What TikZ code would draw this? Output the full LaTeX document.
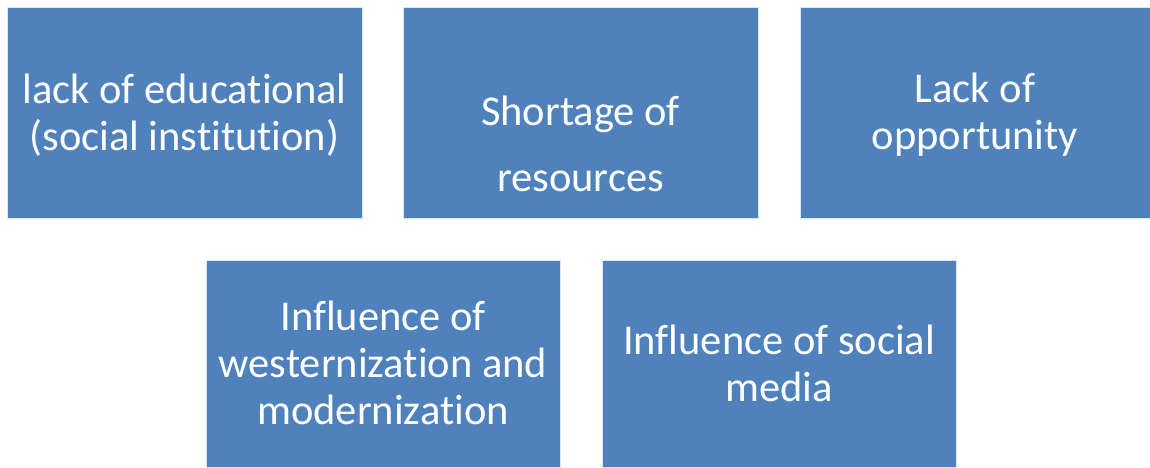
\documentclass[tikz,border=0pt]{standalone}
\usepackage{fontspec}
\setmainfont[RawFeature={-liga;-clig;-dlig;-calt}]{Carlito}
\definecolor{boxblue}{HTML}{4F81BD}
\begin{document}
\begin{tikzpicture}[x=1pt,y=-1pt,
  box/.style={draw=white!80!boxblue,line width=0.8pt,fill=boxblue,inner sep=0pt},
  lbl/.style={text=white,align=center,font=\fontsize{42.5}{47}\selectfont,inner sep=0pt}]
\useasboundingbox (0,0) rectangle (1150,467);
\fill[white] (0,0) rectangle (1150,467);
\node[box,minimum width=355pt,minimum height=211pt] (box1) at (184.5,112.5) {};
\node[box,minimum width=355pt,minimum height=211pt] (box2) at (580.5,112.5) {};
\node[box,minimum width=350pt,minimum height=211pt] (box3) at (975,112.5) {};
\node[box,minimum width=354pt,minimum height=207pt] (box4) at (383,363.5) {};
\node[box,minimum width=354pt,minimum height=207pt] (box5) at (779,363.5) {};
\node[lbl] (t1) at ([yshift=-3pt]box1.center) {lack of educational\\(social institution)};
\node[lbl] (t2) at ([yshift=-31pt]box2.center) {Shortage of\\[19pt]resources};
\node[lbl] (t3) at ([yshift=-2.5pt]box3.center) {Lack of\\opportunity};
\node[lbl] (t4) at ([yshift=0.5pt]box4.center) {Influence of\\westernization and\\modernization};
\node[lbl] (t5) at (box5.center) {Influence of social\\media};
\end{tikzpicture}
\end{document}
